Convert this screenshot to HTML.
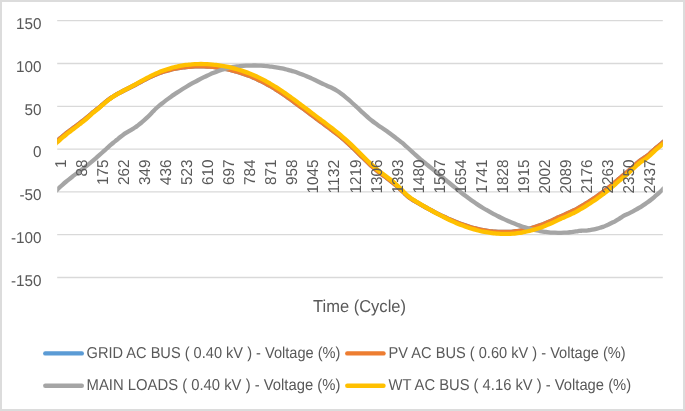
<!DOCTYPE html>
<html><head><meta charset="utf-8"><title>Voltage chart</title>
<style>html,body{margin:0;padding:0;background:#fff;}body{width:685px;height:411px;overflow:hidden;font-family:"Liberation Sans",sans-serif;}svg{display:block;will-change:transform;text-rendering:geometricPrecision;}</style>
</head><body>
<svg width="685" height="411" viewBox="0 0 685 411" font-family='"Liberation Sans", sans-serif' fill="#595959">
<defs><clipPath id="pc"><rect x="57.20" y="0" width="605.60" height="411"/></clipPath></defs>
<rect x="0" y="0" width="685" height="411" fill="#fff"/>
<line x1="57.2" y1="20.70" x2="662.8" y2="20.70" stroke="#d9d9d9" stroke-width="1.3"/>
<line x1="57.2" y1="63.50" x2="662.8" y2="63.50" stroke="#d9d9d9" stroke-width="1.3"/>
<line x1="57.2" y1="106.30" x2="662.8" y2="106.30" stroke="#d9d9d9" stroke-width="1.3"/>
<line x1="57.2" y1="149.10" x2="662.8" y2="149.10" stroke="#d9d9d9" stroke-width="1.3"/>
<line x1="57.2" y1="191.90" x2="662.8" y2="191.90" stroke="#d9d9d9" stroke-width="1.3"/>
<line x1="57.2" y1="234.70" x2="662.8" y2="234.70" stroke="#d9d9d9" stroke-width="1.3"/>
<line x1="57.2" y1="277.50" x2="662.8" y2="277.50" stroke="#d9d9d9" stroke-width="1.3"/>
<text x="41.6" y="28.90" text-anchor="end" font-size="15.7" textLength="25.52" lengthAdjust="spacingAndGlyphs">150</text>
<text x="41.6" y="71.70" text-anchor="end" font-size="15.7" textLength="25.52" lengthAdjust="spacingAndGlyphs">100</text>
<text x="41.6" y="114.50" text-anchor="end" font-size="15.7" textLength="17.01" lengthAdjust="spacingAndGlyphs">50</text>
<text x="41.6" y="157.30" text-anchor="end" font-size="15.7" textLength="8.51" lengthAdjust="spacingAndGlyphs">0</text>
<text x="41.6" y="200.10" text-anchor="end" font-size="15.7" textLength="22.11" lengthAdjust="spacingAndGlyphs">-50</text>
<text x="41.6" y="242.90" text-anchor="end" font-size="15.7" textLength="30.62" lengthAdjust="spacingAndGlyphs">-100</text>
<text x="41.6" y="285.70" text-anchor="end" font-size="15.7" textLength="30.62" lengthAdjust="spacingAndGlyphs">-150</text>
<path clip-path="url(#pc)" d="M54.00,143.69 C54.50,143.25 56.00,141.92 57.00,141.03 C58.00,140.14 59.00,139.23 60.00,138.37 C61.00,137.50 62.00,136.67 63.00,135.85 C64.00,135.03 65.00,134.24 66.00,133.45 C67.00,132.66 68.00,131.86 69.00,131.11 C70.00,130.35 71.00,129.63 72.00,128.91 C73.00,128.18 74.00,127.48 75.00,126.75 C76.00,126.02 77.00,125.29 78.00,124.53 C79.00,123.78 80.00,122.99 81.00,122.22 C82.00,121.45 83.00,120.70 84.00,119.92 C85.00,119.13 86.00,118.34 87.00,117.51 C88.00,116.68 89.00,115.80 90.00,114.91 C91.00,114.03 92.00,113.05 93.00,112.21 C94.00,111.37 95.00,110.66 96.00,109.89 C97.00,109.11 98.00,108.39 99.00,107.57 C100.00,106.76 101.00,105.86 102.00,105.00 C103.00,104.14 104.00,103.23 105.00,102.41 C106.00,101.58 107.00,100.78 108.00,100.03 C109.00,99.28 110.00,98.58 111.00,97.90 C112.00,97.23 113.00,96.59 114.00,95.97 C115.00,95.36 116.00,94.78 117.00,94.21 C118.00,93.65 119.00,93.11 120.00,92.58 C121.00,92.05 122.00,91.54 123.00,91.03 C124.00,90.53 125.00,90.03 126.00,89.54 C127.00,89.04 128.00,88.55 129.00,88.05 C130.00,87.55 131.00,87.05 132.00,86.54 C133.00,86.02 134.00,85.50 135.00,84.98 C136.00,84.45 137.00,83.92 138.00,83.39 C139.00,82.86 140.00,82.32 141.00,81.79 C142.00,81.26 143.00,80.73 144.00,80.21 C145.00,79.69 146.00,79.17 147.00,78.67 C148.00,78.16 149.00,77.66 150.00,77.18 C151.00,76.70 152.00,76.25 153.00,75.80 C154.00,75.36 155.00,74.93 156.00,74.52 C157.00,74.11 158.00,73.71 159.00,73.34 C160.00,72.96 161.00,72.60 162.00,72.26 C163.00,71.91 164.00,71.59 165.00,71.28 C166.00,70.97 167.00,70.67 168.00,70.39 C169.00,70.11 170.00,69.85 171.00,69.60 C172.00,69.36 173.00,69.13 174.00,68.91 C175.00,68.69 176.00,68.49 177.00,68.31 C178.00,68.12 179.00,67.95 180.00,67.79 C181.00,67.64 182.00,67.50 183.00,67.37 C184.00,67.24 185.00,67.13 186.00,67.03 C187.00,66.93 188.00,66.86 189.00,66.78 C190.00,66.70 191.00,66.62 192.00,66.56 C193.00,66.49 194.00,66.43 195.00,66.38 C196.00,66.34 197.00,66.31 198.00,66.29 C199.00,66.28 200.00,66.27 201.00,66.28 C202.00,66.29 203.00,66.31 204.00,66.34 C205.00,66.38 206.00,66.42 207.00,66.48 C208.00,66.54 209.00,66.61 210.00,66.69 C211.00,66.78 212.00,66.87 213.00,66.98 C214.00,67.08 215.00,67.20 216.00,67.33 C217.00,67.46 218.00,67.60 219.00,67.75 C220.00,67.90 221.00,68.07 222.00,68.24 C223.00,68.42 224.00,68.60 225.00,68.80 C226.00,69.00 227.00,69.20 228.00,69.42 C229.00,69.64 230.00,69.88 231.00,70.12 C232.00,70.37 233.00,70.62 234.00,70.89 C235.00,71.16 236.00,71.44 237.00,71.73 C238.00,72.02 239.00,72.33 240.00,72.65 C241.00,72.97 242.00,73.30 243.00,73.64 C244.00,73.98 245.00,74.34 246.00,74.71 C247.00,75.08 248.00,75.47 249.00,75.86 C250.00,76.25 251.00,76.65 252.00,77.07 C253.00,77.48 254.00,77.90 255.00,78.34 C256.00,78.78 257.00,79.24 258.00,79.70 C259.00,80.17 260.00,80.65 261.00,81.15 C262.00,81.64 263.00,82.15 264.00,82.68 C265.00,83.20 266.00,83.74 267.00,84.29 C268.00,84.84 269.00,85.41 270.00,85.99 C271.00,86.57 272.00,87.17 273.00,87.78 C274.00,88.38 275.00,89.00 276.00,89.63 C277.00,90.26 278.00,90.91 279.00,91.56 C280.00,92.21 281.00,92.87 282.00,93.54 C283.00,94.22 284.00,94.90 285.00,95.59 C286.00,96.28 287.00,96.97 288.00,97.68 C289.00,98.38 290.00,99.10 291.00,99.81 C292.00,100.53 293.00,101.26 294.00,101.99 C295.00,102.71 296.00,103.45 297.00,104.19 C298.00,104.93 299.00,105.67 300.00,106.41 C301.00,107.16 302.00,107.89 303.00,108.64 C304.00,109.38 305.00,110.12 306.00,110.87 C307.00,111.61 308.00,112.36 309.00,113.11 C310.00,113.85 311.00,114.60 312.00,115.34 C313.00,116.09 314.00,116.83 315.00,117.57 C316.00,118.31 317.00,119.05 318.00,119.79 C319.00,120.53 320.00,121.26 321.00,122.00 C322.00,122.73 323.00,123.47 324.00,124.20 C325.00,124.94 326.00,125.68 327.00,126.43 C328.00,127.17 329.00,127.92 330.00,128.67 C331.00,129.43 332.00,130.19 333.00,130.96 C334.00,131.73 335.00,132.51 336.00,133.30 C337.00,134.09 338.00,134.88 339.00,135.70 C340.00,136.51 341.00,137.33 342.00,138.17 C343.00,139.01 344.00,139.86 345.00,140.73 C346.00,141.60 347.00,142.48 348.00,143.38 C349.00,144.29 350.00,145.21 351.00,146.15 C352.00,147.08 353.00,148.04 354.00,149.00 C355.00,149.96 356.00,150.94 357.00,151.92 C358.00,152.90 359.00,153.89 360.00,154.88 C361.00,155.86 362.00,156.86 363.00,157.84 C364.00,158.82 365.00,159.80 366.00,160.76 C367.00,161.73 368.00,162.69 369.00,163.63 C370.00,164.56 371.00,165.49 372.00,166.39 C373.00,167.29 374.00,168.18 375.00,169.03 C376.00,169.88 377.00,170.70 378.00,171.50 C379.00,172.30 380.00,173.05 381.00,173.80 C382.00,174.55 383.00,175.27 384.00,176.00 C385.00,176.73 386.00,177.44 387.00,178.18 C388.00,178.92 389.00,179.66 390.00,180.43 C391.00,181.20 392.00,181.99 393.00,182.81 C394.00,183.63 395.00,184.48 396.00,185.35 C397.00,186.23 398.00,187.13 399.00,188.06 C400.00,188.98 401.00,189.94 402.00,190.90 C403.00,191.87 404.00,192.89 405.00,193.83 C406.00,194.77 407.00,195.73 408.00,196.56 C409.00,197.39 410.00,198.13 411.00,198.81 C412.00,199.50 413.00,200.07 414.00,200.67 C415.00,201.27 416.00,201.83 417.00,202.41 C418.00,202.99 419.00,203.56 420.00,204.13 C421.00,204.70 422.00,205.27 423.00,205.83 C424.00,206.39 425.00,206.95 426.00,207.50 C427.00,208.06 428.00,208.60 429.00,209.15 C430.00,209.69 431.00,210.23 432.00,210.76 C433.00,211.29 434.00,211.81 435.00,212.33 C436.00,212.85 437.00,213.36 438.00,213.86 C439.00,214.37 440.00,214.87 441.00,215.35 C442.00,215.84 443.00,216.33 444.00,216.80 C445.00,217.27 446.00,217.74 447.00,218.19 C448.00,218.65 449.00,219.10 450.00,219.53 C451.00,219.97 452.00,220.40 453.00,220.82 C454.00,221.23 455.00,221.64 456.00,222.04 C457.00,222.44 458.00,222.82 459.00,223.20 C460.00,223.58 461.00,223.95 462.00,224.31 C463.00,224.68 464.00,225.03 465.00,225.37 C466.00,225.71 467.00,226.04 468.00,226.35 C469.00,226.67 470.00,226.97 471.00,227.26 C472.00,227.55 473.00,227.83 474.00,228.09 C475.00,228.36 476.00,228.61 477.00,228.85 C478.00,229.09 479.00,229.31 480.00,229.52 C481.00,229.74 482.00,229.94 483.00,230.12 C484.00,230.31 485.00,230.48 486.00,230.64 C487.00,230.80 488.00,230.94 489.00,231.07 C490.00,231.21 491.00,231.32 492.00,231.43 C493.00,231.53 494.00,231.62 495.00,231.70 C496.00,231.77 497.00,231.83 498.00,231.88 C499.00,231.93 500.00,231.96 501.00,231.98 C502.00,231.99 503.00,231.99 504.00,231.99 C505.00,231.98 506.00,231.96 507.00,231.93 C508.00,231.90 509.00,231.85 510.00,231.79 C511.00,231.73 512.00,231.65 513.00,231.56 C514.00,231.47 515.00,231.36 516.00,231.24 C517.00,231.12 518.00,230.98 519.00,230.83 C520.00,230.68 521.00,230.51 522.00,230.32 C523.00,230.14 524.00,229.93 525.00,229.72 C526.00,229.50 527.00,229.27 528.00,229.02 C529.00,228.77 530.00,228.50 531.00,228.23 C532.00,227.95 533.00,227.65 534.00,227.35 C535.00,227.04 536.00,226.72 537.00,226.38 C538.00,226.05 539.00,225.70 540.00,225.34 C541.00,224.97 542.00,224.60 543.00,224.22 C544.00,223.83 545.00,223.43 546.00,223.02 C547.00,222.61 548.00,222.19 549.00,221.75 C550.00,221.32 551.00,220.87 552.00,220.42 C553.00,219.96 554.00,219.49 555.00,219.02 C556.00,218.54 557.00,218.03 558.00,217.56 C559.00,217.08 560.00,216.59 561.00,216.14 C562.00,215.69 563.00,215.30 564.00,214.87 C565.00,214.44 566.00,214.00 567.00,213.56 C568.00,213.11 569.00,212.66 570.00,212.19 C571.00,211.73 572.00,211.26 573.00,210.78 C574.00,210.31 575.00,209.85 576.00,209.34 C577.00,208.82 578.00,208.25 579.00,207.67 C580.00,207.10 581.00,206.49 582.00,205.88 C583.00,205.28 584.00,204.68 585.00,204.07 C586.00,203.45 587.00,202.84 588.00,202.21 C589.00,201.59 590.00,200.97 591.00,200.32 C592.00,199.67 593.00,199.00 594.00,198.31 C595.00,197.63 596.00,196.93 597.00,196.23 C598.00,195.53 599.00,194.81 600.00,194.10 C601.00,193.38 602.00,192.66 603.00,191.93 C604.00,191.20 605.00,190.48 606.00,189.71 C607.00,188.93 608.00,188.10 609.00,187.28 C610.00,186.46 611.00,185.64 612.00,184.80 C613.00,183.96 614.00,183.11 615.00,182.25 C616.00,181.39 617.00,180.48 618.00,179.64 C619.00,178.80 620.00,178.03 621.00,177.21 C622.00,176.39 623.00,175.55 624.00,174.70 C625.00,173.86 626.00,173.00 627.00,172.13 C628.00,171.26 629.00,170.38 630.00,169.50 C631.00,168.61 632.00,167.72 633.00,166.82 C634.00,165.93 635.00,165.03 636.00,164.13 C637.00,163.24 638.00,162.25 639.00,161.44 C640.00,160.63 641.00,159.95 642.00,159.27 C643.00,158.60 644.00,158.07 645.00,157.40 C646.00,156.72 647.00,156.05 648.00,155.23 C649.00,154.40 650.00,153.36 651.00,152.44 C652.00,151.53 653.00,150.63 654.00,149.74 C655.00,148.85 656.00,147.96 657.00,147.10 C658.00,146.24 659.00,145.39 660.00,144.58 C661.00,143.76 662.00,142.99 663.00,142.19 C664.00,141.40 665.50,140.21 666.00,139.81" fill="none" stroke="#5b9bd5" stroke-width="4.30" stroke-linejoin="round" stroke-linecap="butt"/>
<path clip-path="url(#pc)" d="M54.00,143.69 C54.50,143.25 56.00,141.92 57.00,141.03 C58.00,140.14 59.00,139.23 60.00,138.37 C61.00,137.50 62.00,136.67 63.00,135.85 C64.00,135.03 65.00,134.24 66.00,133.45 C67.00,132.66 68.00,131.86 69.00,131.11 C70.00,130.35 71.00,129.63 72.00,128.91 C73.00,128.18 74.00,127.48 75.00,126.75 C76.00,126.02 77.00,125.29 78.00,124.53 C79.00,123.78 80.00,122.99 81.00,122.22 C82.00,121.45 83.00,120.70 84.00,119.92 C85.00,119.13 86.00,118.34 87.00,117.51 C88.00,116.68 89.00,115.80 90.00,114.91 C91.00,114.03 92.00,113.05 93.00,112.21 C94.00,111.37 95.00,110.66 96.00,109.89 C97.00,109.11 98.00,108.39 99.00,107.57 C100.00,106.76 101.00,105.86 102.00,105.00 C103.00,104.14 104.00,103.23 105.00,102.41 C106.00,101.58 107.00,100.78 108.00,100.03 C109.00,99.28 110.00,98.58 111.00,97.90 C112.00,97.23 113.00,96.59 114.00,95.97 C115.00,95.36 116.00,94.78 117.00,94.21 C118.00,93.65 119.00,93.11 120.00,92.58 C121.00,92.05 122.00,91.54 123.00,91.03 C124.00,90.53 125.00,90.03 126.00,89.54 C127.00,89.04 128.00,88.55 129.00,88.05 C130.00,87.55 131.00,87.05 132.00,86.54 C133.00,86.02 134.00,85.50 135.00,84.98 C136.00,84.45 137.00,83.92 138.00,83.39 C139.00,82.86 140.00,82.32 141.00,81.79 C142.00,81.26 143.00,80.73 144.00,80.21 C145.00,79.69 146.00,79.17 147.00,78.67 C148.00,78.16 149.00,77.66 150.00,77.18 C151.00,76.70 152.00,76.25 153.00,75.80 C154.00,75.36 155.00,74.93 156.00,74.52 C157.00,74.11 158.00,73.71 159.00,73.34 C160.00,72.96 161.00,72.60 162.00,72.26 C163.00,71.91 164.00,71.59 165.00,71.28 C166.00,70.97 167.00,70.67 168.00,70.39 C169.00,70.11 170.00,69.85 171.00,69.60 C172.00,69.36 173.00,69.13 174.00,68.91 C175.00,68.69 176.00,68.49 177.00,68.31 C178.00,68.12 179.00,67.95 180.00,67.79 C181.00,67.64 182.00,67.50 183.00,67.37 C184.00,67.24 185.00,67.13 186.00,67.03 C187.00,66.93 188.00,66.86 189.00,66.78 C190.00,66.70 191.00,66.62 192.00,66.56 C193.00,66.49 194.00,66.43 195.00,66.38 C196.00,66.34 197.00,66.31 198.00,66.29 C199.00,66.28 200.00,66.27 201.00,66.28 C202.00,66.29 203.00,66.31 204.00,66.34 C205.00,66.38 206.00,66.42 207.00,66.48 C208.00,66.54 209.00,66.61 210.00,66.69 C211.00,66.78 212.00,66.87 213.00,66.98 C214.00,67.08 215.00,67.20 216.00,67.33 C217.00,67.46 218.00,67.60 219.00,67.75 C220.00,67.90 221.00,68.07 222.00,68.24 C223.00,68.42 224.00,68.60 225.00,68.80 C226.00,69.00 227.00,69.20 228.00,69.42 C229.00,69.64 230.00,69.88 231.00,70.12 C232.00,70.37 233.00,70.62 234.00,70.89 C235.00,71.16 236.00,71.44 237.00,71.73 C238.00,72.02 239.00,72.33 240.00,72.65 C241.00,72.97 242.00,73.30 243.00,73.64 C244.00,73.98 245.00,74.34 246.00,74.71 C247.00,75.08 248.00,75.47 249.00,75.86 C250.00,76.25 251.00,76.65 252.00,77.07 C253.00,77.48 254.00,77.90 255.00,78.34 C256.00,78.78 257.00,79.24 258.00,79.70 C259.00,80.17 260.00,80.65 261.00,81.15 C262.00,81.64 263.00,82.15 264.00,82.68 C265.00,83.20 266.00,83.74 267.00,84.29 C268.00,84.84 269.00,85.41 270.00,85.99 C271.00,86.57 272.00,87.17 273.00,87.78 C274.00,88.38 275.00,89.00 276.00,89.63 C277.00,90.26 278.00,90.91 279.00,91.56 C280.00,92.21 281.00,92.87 282.00,93.54 C283.00,94.22 284.00,94.90 285.00,95.59 C286.00,96.28 287.00,96.97 288.00,97.68 C289.00,98.38 290.00,99.10 291.00,99.81 C292.00,100.53 293.00,101.26 294.00,101.99 C295.00,102.71 296.00,103.45 297.00,104.19 C298.00,104.93 299.00,105.67 300.00,106.41 C301.00,107.16 302.00,107.89 303.00,108.64 C304.00,109.38 305.00,110.12 306.00,110.87 C307.00,111.61 308.00,112.36 309.00,113.11 C310.00,113.85 311.00,114.60 312.00,115.34 C313.00,116.09 314.00,116.83 315.00,117.57 C316.00,118.31 317.00,119.05 318.00,119.79 C319.00,120.53 320.00,121.26 321.00,122.00 C322.00,122.73 323.00,123.47 324.00,124.20 C325.00,124.94 326.00,125.68 327.00,126.43 C328.00,127.17 329.00,127.92 330.00,128.67 C331.00,129.43 332.00,130.19 333.00,130.96 C334.00,131.73 335.00,132.51 336.00,133.30 C337.00,134.09 338.00,134.88 339.00,135.70 C340.00,136.51 341.00,137.33 342.00,138.17 C343.00,139.01 344.00,139.86 345.00,140.73 C346.00,141.60 347.00,142.48 348.00,143.38 C349.00,144.29 350.00,145.21 351.00,146.15 C352.00,147.08 353.00,148.04 354.00,149.00 C355.00,149.96 356.00,150.94 357.00,151.92 C358.00,152.90 359.00,153.89 360.00,154.88 C361.00,155.86 362.00,156.86 363.00,157.84 C364.00,158.82 365.00,159.80 366.00,160.76 C367.00,161.73 368.00,162.69 369.00,163.63 C370.00,164.56 371.00,165.49 372.00,166.39 C373.00,167.29 374.00,168.18 375.00,169.03 C376.00,169.88 377.00,170.70 378.00,171.50 C379.00,172.30 380.00,173.05 381.00,173.80 C382.00,174.55 383.00,175.27 384.00,176.00 C385.00,176.73 386.00,177.44 387.00,178.18 C388.00,178.92 389.00,179.66 390.00,180.43 C391.00,181.20 392.00,181.99 393.00,182.81 C394.00,183.63 395.00,184.48 396.00,185.35 C397.00,186.23 398.00,187.13 399.00,188.06 C400.00,188.98 401.00,189.94 402.00,190.90 C403.00,191.87 404.00,192.89 405.00,193.83 C406.00,194.77 407.00,195.73 408.00,196.56 C409.00,197.39 410.00,198.13 411.00,198.81 C412.00,199.50 413.00,200.07 414.00,200.67 C415.00,201.27 416.00,201.83 417.00,202.41 C418.00,202.99 419.00,203.56 420.00,204.13 C421.00,204.70 422.00,205.27 423.00,205.83 C424.00,206.39 425.00,206.95 426.00,207.50 C427.00,208.06 428.00,208.60 429.00,209.15 C430.00,209.69 431.00,210.23 432.00,210.76 C433.00,211.29 434.00,211.81 435.00,212.33 C436.00,212.85 437.00,213.36 438.00,213.86 C439.00,214.37 440.00,214.87 441.00,215.35 C442.00,215.84 443.00,216.33 444.00,216.80 C445.00,217.27 446.00,217.74 447.00,218.19 C448.00,218.65 449.00,219.10 450.00,219.53 C451.00,219.97 452.00,220.40 453.00,220.82 C454.00,221.23 455.00,221.64 456.00,222.04 C457.00,222.44 458.00,222.82 459.00,223.20 C460.00,223.58 461.00,223.95 462.00,224.31 C463.00,224.68 464.00,225.03 465.00,225.37 C466.00,225.71 467.00,226.04 468.00,226.35 C469.00,226.67 470.00,226.97 471.00,227.26 C472.00,227.55 473.00,227.83 474.00,228.09 C475.00,228.36 476.00,228.61 477.00,228.85 C478.00,229.09 479.00,229.31 480.00,229.52 C481.00,229.74 482.00,229.94 483.00,230.12 C484.00,230.31 485.00,230.48 486.00,230.64 C487.00,230.80 488.00,230.94 489.00,231.07 C490.00,231.21 491.00,231.32 492.00,231.43 C493.00,231.53 494.00,231.62 495.00,231.70 C496.00,231.77 497.00,231.83 498.00,231.88 C499.00,231.93 500.00,231.96 501.00,231.98 C502.00,231.99 503.00,231.99 504.00,231.99 C505.00,231.98 506.00,231.96 507.00,231.93 C508.00,231.90 509.00,231.85 510.00,231.79 C511.00,231.73 512.00,231.65 513.00,231.56 C514.00,231.47 515.00,231.36 516.00,231.24 C517.00,231.12 518.00,230.98 519.00,230.83 C520.00,230.68 521.00,230.51 522.00,230.32 C523.00,230.14 524.00,229.93 525.00,229.72 C526.00,229.50 527.00,229.27 528.00,229.02 C529.00,228.77 530.00,228.50 531.00,228.23 C532.00,227.95 533.00,227.65 534.00,227.35 C535.00,227.04 536.00,226.72 537.00,226.38 C538.00,226.05 539.00,225.70 540.00,225.34 C541.00,224.97 542.00,224.60 543.00,224.22 C544.00,223.83 545.00,223.43 546.00,223.02 C547.00,222.61 548.00,222.19 549.00,221.75 C550.00,221.32 551.00,220.87 552.00,220.42 C553.00,219.96 554.00,219.49 555.00,219.02 C556.00,218.54 557.00,218.03 558.00,217.56 C559.00,217.08 560.00,216.59 561.00,216.14 C562.00,215.69 563.00,215.30 564.00,214.87 C565.00,214.44 566.00,214.00 567.00,213.56 C568.00,213.11 569.00,212.66 570.00,212.19 C571.00,211.73 572.00,211.26 573.00,210.78 C574.00,210.31 575.00,209.85 576.00,209.34 C577.00,208.82 578.00,208.25 579.00,207.67 C580.00,207.10 581.00,206.49 582.00,205.88 C583.00,205.28 584.00,204.68 585.00,204.07 C586.00,203.45 587.00,202.84 588.00,202.21 C589.00,201.59 590.00,200.97 591.00,200.32 C592.00,199.67 593.00,199.00 594.00,198.31 C595.00,197.63 596.00,196.93 597.00,196.23 C598.00,195.53 599.00,194.81 600.00,194.10 C601.00,193.38 602.00,192.66 603.00,191.93 C604.00,191.20 605.00,190.48 606.00,189.71 C607.00,188.93 608.00,188.10 609.00,187.28 C610.00,186.46 611.00,185.64 612.00,184.80 C613.00,183.96 614.00,183.11 615.00,182.25 C616.00,181.39 617.00,180.48 618.00,179.64 C619.00,178.80 620.00,178.03 621.00,177.21 C622.00,176.39 623.00,175.55 624.00,174.70 C625.00,173.86 626.00,173.00 627.00,172.13 C628.00,171.26 629.00,170.38 630.00,169.50 C631.00,168.61 632.00,167.72 633.00,166.82 C634.00,165.93 635.00,165.03 636.00,164.13 C637.00,163.24 638.00,162.25 639.00,161.44 C640.00,160.63 641.00,159.95 642.00,159.27 C643.00,158.60 644.00,158.07 645.00,157.40 C646.00,156.72 647.00,156.05 648.00,155.23 C649.00,154.40 650.00,153.36 651.00,152.44 C652.00,151.53 653.00,150.63 654.00,149.74 C655.00,148.85 656.00,147.96 657.00,147.10 C658.00,146.24 659.00,145.39 660.00,144.58 C661.00,143.76 662.00,142.99 663.00,142.19 C664.00,141.40 665.50,140.21 666.00,139.81" fill="none" stroke="#ed7d31" stroke-width="4.30" stroke-linejoin="round" stroke-linecap="butt"/>
<path clip-path="url(#pc)" d="M54.00,192.81 C54.50,192.33 56.00,190.88 57.00,189.92 C58.00,188.96 59.00,187.97 60.00,187.03 C61.00,186.10 62.00,185.20 63.00,184.32 C64.00,183.44 65.00,182.59 66.00,181.76 C67.00,180.92 68.00,180.11 69.00,179.31 C70.00,178.51 71.00,177.73 72.00,176.96 C73.00,176.18 74.00,175.42 75.00,174.66 C76.00,173.90 77.00,173.15 78.00,172.40 C79.00,171.64 80.00,170.90 81.00,170.14 C82.00,169.38 83.00,168.62 84.00,167.85 C85.00,167.08 86.00,166.30 87.00,165.51 C88.00,164.71 89.00,163.91 90.00,163.09 C91.00,162.27 92.00,161.44 93.00,160.60 C94.00,159.75 95.00,158.89 96.00,158.02 C97.00,157.15 98.00,156.25 99.00,155.37 C100.00,154.50 101.00,153.63 102.00,152.75 C103.00,151.87 104.00,150.99 105.00,150.09 C106.00,149.19 107.00,148.25 108.00,147.35 C109.00,146.45 110.00,145.53 111.00,144.67 C112.00,143.81 113.00,143.01 114.00,142.20 C115.00,141.38 116.00,140.60 117.00,139.77 C118.00,138.95 119.00,138.07 120.00,137.26 C121.00,136.46 122.00,135.67 123.00,134.95 C124.00,134.23 125.00,133.57 126.00,132.93 C127.00,132.29 128.00,131.69 129.00,131.10 C130.00,130.50 131.00,129.93 132.00,129.35 C133.00,128.76 134.00,128.24 135.00,127.58 C136.00,126.91 137.00,126.11 138.00,125.34 C139.00,124.57 140.00,123.79 141.00,122.97 C142.00,122.14 143.00,121.29 144.00,120.41 C145.00,119.53 146.00,118.63 147.00,117.67 C148.00,116.70 149.00,115.67 150.00,114.64 C151.00,113.62 152.00,112.55 153.00,111.52 C154.00,110.49 155.00,109.41 156.00,108.46 C157.00,107.52 158.00,106.66 159.00,105.83 C160.00,104.99 161.00,104.22 162.00,103.44 C163.00,102.65 164.00,101.88 165.00,101.13 C166.00,100.37 167.00,99.63 168.00,98.89 C169.00,98.16 170.00,97.44 171.00,96.73 C172.00,96.03 173.00,95.33 174.00,94.65 C175.00,93.96 176.00,93.29 177.00,92.63 C178.00,91.97 179.00,91.32 180.00,90.68 C181.00,90.04 182.00,89.41 183.00,88.79 C184.00,88.18 185.00,87.57 186.00,86.97 C187.00,86.37 188.00,85.78 189.00,85.20 C190.00,84.62 191.00,84.05 192.00,83.49 C193.00,82.93 194.00,82.38 195.00,81.83 C196.00,81.29 197.00,80.75 198.00,80.23 C199.00,79.70 200.00,79.18 201.00,78.67 C202.00,78.17 203.00,77.67 204.00,77.18 C205.00,76.69 206.00,76.21 207.00,75.75 C208.00,75.28 209.00,74.83 210.00,74.39 C211.00,73.95 212.00,73.52 213.00,73.11 C214.00,72.69 215.00,72.29 216.00,71.91 C217.00,71.53 218.00,71.15 219.00,70.80 C220.00,70.45 221.00,70.11 222.00,69.79 C223.00,69.46 224.00,69.16 225.00,68.86 C226.00,68.57 227.00,68.29 228.00,68.04 C229.00,67.78 230.00,67.54 231.00,67.34 C232.00,67.14 233.00,66.99 234.00,66.83 C235.00,66.68 236.00,66.54 237.00,66.41 C238.00,66.29 239.00,66.18 240.00,66.08 C241.00,65.99 242.00,65.91 243.00,65.84 C244.00,65.77 245.00,65.72 246.00,65.68 C247.00,65.64 248.00,65.64 249.00,65.61 C250.00,65.59 251.00,65.55 252.00,65.53 C253.00,65.52 254.00,65.50 255.00,65.50 C256.00,65.50 257.00,65.51 258.00,65.54 C259.00,65.57 260.00,65.61 261.00,65.67 C262.00,65.73 263.00,65.80 264.00,65.88 C265.00,65.96 266.00,66.06 267.00,66.17 C268.00,66.28 269.00,66.41 270.00,66.53 C271.00,66.66 272.00,66.76 273.00,66.89 C274.00,67.02 275.00,67.17 276.00,67.32 C277.00,67.48 278.00,67.65 279.00,67.83 C280.00,68.01 281.00,68.21 282.00,68.41 C283.00,68.62 284.00,68.84 285.00,69.07 C286.00,69.30 287.00,69.54 288.00,69.80 C289.00,70.06 290.00,70.33 291.00,70.62 C292.00,70.92 293.00,71.24 294.00,71.56 C295.00,71.89 296.00,72.22 297.00,72.57 C298.00,72.92 299.00,73.28 300.00,73.65 C301.00,74.02 302.00,74.40 303.00,74.80 C304.00,75.19 305.00,75.59 306.00,76.01 C307.00,76.43 308.00,76.85 309.00,77.29 C310.00,77.73 311.00,78.17 312.00,78.63 C313.00,79.09 314.00,79.56 315.00,80.04 C316.00,80.52 317.00,81.01 318.00,81.50 C319.00,81.99 320.00,82.49 321.00,82.97 C322.00,83.46 323.00,83.94 324.00,84.40 C325.00,84.86 326.00,85.30 327.00,85.74 C328.00,86.18 329.00,86.60 330.00,87.06 C331.00,87.52 332.00,87.99 333.00,88.51 C334.00,89.02 335.00,89.57 336.00,90.17 C337.00,90.76 338.00,91.41 339.00,92.09 C340.00,92.76 341.00,93.49 342.00,94.23 C343.00,94.98 344.00,95.77 345.00,96.58 C346.00,97.39 347.00,98.23 348.00,99.09 C349.00,99.95 350.00,100.83 351.00,101.73 C352.00,102.63 353.00,103.55 354.00,104.47 C355.00,105.39 356.00,106.34 357.00,107.27 C358.00,108.21 359.00,109.16 360.00,110.10 C361.00,111.04 362.00,111.98 363.00,112.90 C364.00,113.83 365.00,114.75 366.00,115.64 C367.00,116.54 368.00,117.42 369.00,118.27 C370.00,119.13 371.00,119.96 372.00,120.75 C373.00,121.54 374.00,122.30 375.00,123.04 C376.00,123.77 377.00,124.48 378.00,125.17 C379.00,125.87 380.00,126.55 381.00,127.22 C382.00,127.89 383.00,128.52 384.00,129.21 C385.00,129.89 386.00,130.59 387.00,131.31 C388.00,132.03 389.00,132.77 390.00,133.51 C391.00,134.26 392.00,135.02 393.00,135.78 C394.00,136.54 395.00,137.31 396.00,138.08 C397.00,138.85 398.00,139.62 399.00,140.39 C400.00,141.16 401.00,141.87 402.00,142.69 C403.00,143.50 404.00,144.39 405.00,145.28 C406.00,146.17 407.00,147.11 408.00,148.02 C409.00,148.93 410.00,149.84 411.00,150.75 C412.00,151.66 413.00,152.56 414.00,153.47 C415.00,154.38 416.00,155.28 417.00,156.19 C418.00,157.09 419.00,158.04 420.00,158.90 C421.00,159.76 422.00,160.53 423.00,161.35 C424.00,162.16 425.00,162.98 426.00,163.80 C427.00,164.61 428.00,165.43 429.00,166.24 C430.00,167.06 431.00,167.88 432.00,168.69 C433.00,169.51 434.00,170.33 435.00,171.15 C436.00,171.97 437.00,172.79 438.00,173.61 C439.00,174.43 440.00,175.25 441.00,176.08 C442.00,176.90 443.00,177.73 444.00,178.56 C445.00,179.38 446.00,180.21 447.00,181.04 C448.00,181.86 449.00,182.69 450.00,183.51 C451.00,184.34 452.00,185.16 453.00,185.98 C454.00,186.80 455.00,187.61 456.00,188.42 C457.00,189.23 458.00,190.03 459.00,190.83 C460.00,191.63 461.00,192.42 462.00,193.20 C463.00,193.99 464.00,194.76 465.00,195.53 C466.00,196.29 467.00,197.05 468.00,197.79 C469.00,198.54 470.00,199.27 471.00,199.99 C472.00,200.71 473.00,201.42 474.00,202.12 C475.00,202.81 476.00,203.50 477.00,204.16 C478.00,204.83 479.00,205.48 480.00,206.11 C481.00,206.75 482.00,207.36 483.00,207.97 C484.00,208.57 485.00,209.16 486.00,209.74 C487.00,210.31 488.00,210.88 489.00,211.44 C490.00,211.99 491.00,212.54 492.00,213.08 C493.00,213.62 494.00,214.16 495.00,214.68 C496.00,215.20 497.00,215.72 498.00,216.22 C499.00,216.73 500.00,217.22 501.00,217.71 C502.00,218.20 503.00,218.68 504.00,219.14 C505.00,219.61 506.00,220.07 507.00,220.51 C508.00,220.96 509.00,221.40 510.00,221.82 C511.00,222.25 512.00,222.67 513.00,223.07 C514.00,223.48 515.00,223.87 516.00,224.25 C517.00,224.63 518.00,225.01 519.00,225.37 C520.00,225.72 521.00,226.07 522.00,226.41 C523.00,226.74 524.00,227.07 525.00,227.38 C526.00,227.69 527.00,227.99 528.00,228.28 C529.00,228.56 530.00,228.84 531.00,229.10 C532.00,229.36 533.00,229.61 534.00,229.84 C535.00,230.08 536.00,230.30 537.00,230.50 C538.00,230.71 539.00,230.91 540.00,231.08 C541.00,231.26 542.00,231.43 543.00,231.58 C544.00,231.73 545.00,231.87 546.00,231.99 C547.00,232.12 548.00,232.22 549.00,232.32 C550.00,232.42 551.00,232.50 552.00,232.56 C553.00,232.63 554.00,232.68 555.00,232.72 C556.00,232.76 557.00,232.79 558.00,232.80 C559.00,232.81 560.00,232.81 561.00,232.79 C562.00,232.77 563.00,232.74 564.00,232.70 C565.00,232.65 566.00,232.59 567.00,232.52 C568.00,232.45 569.00,232.36 570.00,232.26 C571.00,232.16 572.00,232.05 573.00,231.92 C574.00,231.79 575.00,231.65 576.00,231.49 C577.00,231.34 578.00,231.11 579.00,230.99 C580.00,230.86 581.00,230.80 582.00,230.73 C583.00,230.66 584.00,230.62 585.00,230.55 C586.00,230.48 587.00,230.40 588.00,230.30 C589.00,230.20 590.00,230.11 591.00,229.96 C592.00,229.80 593.00,229.59 594.00,229.37 C595.00,229.14 596.00,228.88 597.00,228.62 C598.00,228.35 599.00,228.07 600.00,227.78 C601.00,227.49 602.00,227.22 603.00,226.87 C604.00,226.51 605.00,226.08 606.00,225.64 C607.00,225.20 608.00,224.70 609.00,224.22 C610.00,223.74 611.00,223.25 612.00,222.77 C613.00,222.28 614.00,221.84 615.00,221.30 C616.00,220.76 617.00,220.13 618.00,219.51 C619.00,218.89 620.00,218.21 621.00,217.57 C622.00,216.92 623.00,216.18 624.00,215.64 C625.00,215.09 626.00,214.75 627.00,214.28 C628.00,213.82 629.00,213.35 630.00,212.86 C631.00,212.37 632.00,211.86 633.00,211.34 C634.00,210.81 635.00,210.27 636.00,209.71 C637.00,209.15 638.00,208.57 639.00,207.96 C640.00,207.36 641.00,206.74 642.00,206.10 C643.00,205.46 644.00,204.79 645.00,204.11 C646.00,203.42 647.00,202.71 648.00,201.98 C649.00,201.25 650.00,200.50 651.00,199.72 C652.00,198.93 653.00,198.13 654.00,197.30 C655.00,196.47 656.00,195.61 657.00,194.73 C658.00,193.85 659.00,192.94 660.00,192.00 C661.00,191.06 662.00,190.07 663.00,189.10 C664.00,188.13 665.50,186.68 666.00,186.20" fill="none" stroke="#a5a5a5" stroke-width="4.30" stroke-linejoin="round" stroke-linecap="butt"/>
<path clip-path="url(#pc)" d="M54.00,145.26 C54.50,144.80 56.00,143.44 57.00,142.53 C58.00,141.62 59.00,140.69 60.00,139.80 C61.00,138.92 62.00,138.07 63.00,137.22 C64.00,136.38 65.00,135.57 66.00,134.76 C67.00,133.94 68.00,133.13 69.00,132.35 C70.00,131.57 71.00,130.84 72.00,130.09 C73.00,129.34 74.00,128.62 75.00,127.87 C76.00,127.12 77.00,126.36 78.00,125.59 C79.00,124.81 80.00,124.00 81.00,123.21 C82.00,122.42 83.00,121.65 84.00,120.84 C85.00,120.04 86.00,119.23 87.00,118.37 C88.00,117.52 89.00,116.62 90.00,115.71 C91.00,114.81 92.00,113.80 93.00,112.93 C94.00,112.07 95.00,111.33 96.00,110.53 C97.00,109.73 98.00,108.97 99.00,108.13 C100.00,107.29 101.00,106.37 102.00,105.48 C103.00,104.59 104.00,103.66 105.00,102.81 C106.00,101.95 107.00,101.13 108.00,100.35 C109.00,99.58 110.00,98.85 111.00,98.14 C112.00,97.44 113.00,96.78 114.00,96.13 C115.00,95.49 116.00,94.89 117.00,94.29 C118.00,93.70 119.00,93.14 120.00,92.58 C121.00,92.02 122.00,91.49 123.00,90.95 C124.00,90.42 125.00,89.90 126.00,89.38 C127.00,88.85 128.00,88.34 129.00,87.81 C130.00,87.28 131.00,86.76 132.00,86.22 C133.00,85.68 134.00,85.13 135.00,84.58 C136.00,84.02 137.00,83.46 138.00,82.91 C139.00,82.35 140.00,81.79 141.00,81.23 C142.00,80.68 143.00,80.12 144.00,79.57 C145.00,79.02 146.00,78.48 147.00,77.95 C148.00,77.42 149.00,76.89 150.00,76.38 C151.00,75.87 152.00,75.38 153.00,74.90 C154.00,74.42 155.00,73.95 156.00,73.51 C157.00,73.06 158.00,72.63 159.00,72.22 C160.00,71.81 161.00,71.42 162.00,71.04 C163.00,70.66 164.00,70.30 165.00,69.95 C166.00,69.61 167.00,69.28 168.00,68.96 C169.00,68.65 170.00,68.35 171.00,68.07 C172.00,67.79 173.00,67.52 174.00,67.27 C175.00,67.02 176.00,66.78 177.00,66.56 C178.00,66.34 179.00,66.13 180.00,65.94 C181.00,65.75 182.00,65.58 183.00,65.42 C184.00,65.25 185.00,65.11 186.00,64.97 C187.00,64.84 188.00,64.72 189.00,64.62 C190.00,64.51 191.00,64.42 192.00,64.34 C193.00,64.27 194.00,64.20 195.00,64.15 C196.00,64.10 197.00,64.06 198.00,64.04 C199.00,64.02 200.00,64.01 201.00,64.01 C202.00,64.01 203.00,64.02 204.00,64.05 C205.00,64.08 206.00,64.12 207.00,64.17 C208.00,64.22 209.00,64.29 210.00,64.36 C211.00,64.44 212.00,64.53 213.00,64.62 C214.00,64.72 215.00,64.84 216.00,64.96 C217.00,65.08 218.00,65.21 219.00,65.36 C220.00,65.50 221.00,65.66 222.00,65.83 C223.00,66.00 224.00,66.17 225.00,66.36 C226.00,66.56 227.00,66.76 228.00,66.97 C229.00,67.18 230.00,67.41 231.00,67.65 C232.00,67.89 233.00,68.13 234.00,68.40 C235.00,68.66 236.00,68.93 237.00,69.22 C238.00,69.50 239.00,69.80 240.00,70.11 C241.00,70.43 242.00,70.75 243.00,71.09 C244.00,71.42 245.00,71.77 246.00,72.14 C247.00,72.50 248.00,72.88 249.00,73.27 C250.00,73.65 251.00,74.06 252.00,74.47 C253.00,74.89 254.00,75.32 255.00,75.76 C256.00,76.21 257.00,76.66 258.00,77.14 C259.00,77.61 260.00,78.09 261.00,78.59 C262.00,79.09 263.00,79.60 264.00,80.13 C265.00,80.66 266.00,81.20 267.00,81.76 C268.00,82.32 269.00,82.89 270.00,83.47 C271.00,84.06 272.00,84.66 273.00,85.27 C274.00,85.88 275.00,86.50 276.00,87.14 C277.00,87.77 278.00,88.42 279.00,89.07 C280.00,89.73 281.00,90.40 282.00,91.07 C283.00,91.75 284.00,92.43 285.00,93.13 C286.00,93.82 287.00,94.52 288.00,95.23 C289.00,95.94 290.00,96.66 291.00,97.38 C292.00,98.10 293.00,98.83 294.00,99.56 C295.00,100.29 296.00,101.03 297.00,101.78 C298.00,102.52 299.00,103.27 300.00,104.01 C301.00,104.76 302.00,105.52 303.00,106.27 C304.00,107.03 305.00,107.78 306.00,108.54 C307.00,109.30 308.00,110.06 309.00,110.81 C310.00,111.57 311.00,112.33 312.00,113.09 C313.00,113.84 314.00,114.60 315.00,115.35 C316.00,116.11 317.00,116.86 318.00,117.61 C319.00,118.35 320.00,119.10 321.00,119.85 C322.00,120.60 323.00,121.34 324.00,122.09 C325.00,122.84 326.00,123.59 327.00,124.35 C328.00,125.11 329.00,125.87 330.00,126.63 C331.00,127.40 332.00,128.17 333.00,128.96 C334.00,129.74 335.00,130.53 336.00,131.33 C337.00,132.13 338.00,132.94 339.00,133.76 C340.00,134.59 341.00,135.42 342.00,136.27 C343.00,137.12 344.00,137.99 345.00,138.87 C346.00,139.75 347.00,140.64 348.00,141.56 C349.00,142.48 350.00,143.41 351.00,144.36 C352.00,145.31 353.00,146.29 354.00,147.27 C355.00,148.24 356.00,149.24 357.00,150.23 C358.00,151.23 359.00,152.24 360.00,153.24 C361.00,154.24 362.00,155.25 363.00,156.24 C364.00,157.24 365.00,158.24 366.00,159.22 C367.00,160.20 368.00,161.18 369.00,162.13 C370.00,163.08 371.00,164.03 372.00,164.94 C373.00,165.86 374.00,166.76 375.00,167.63 C376.00,168.49 377.00,169.34 378.00,170.15 C379.00,170.96 380.00,171.73 381.00,172.50 C382.00,173.26 383.00,174.00 384.00,174.75 C385.00,175.49 386.00,176.22 387.00,176.97 C388.00,177.73 389.00,178.48 390.00,179.27 C391.00,180.06 392.00,180.86 393.00,181.70 C394.00,182.54 395.00,183.40 396.00,184.29 C397.00,185.18 398.00,186.10 399.00,187.04 C400.00,187.99 401.00,188.98 402.00,189.97 C403.00,190.96 404.00,192.02 405.00,193.00 C406.00,193.97 407.00,194.96 408.00,195.83 C409.00,196.69 410.00,197.46 411.00,198.18 C412.00,198.90 413.00,199.50 414.00,200.13 C415.00,200.77 416.00,201.36 417.00,201.98 C418.00,202.59 419.00,203.19 420.00,203.80 C421.00,204.40 422.00,205.00 423.00,205.60 C424.00,206.19 425.00,206.78 426.00,207.37 C427.00,207.96 428.00,208.54 429.00,209.11 C430.00,209.69 431.00,210.26 432.00,210.82 C433.00,211.39 434.00,211.95 435.00,212.50 C436.00,213.05 437.00,213.59 438.00,214.13 C439.00,214.67 440.00,215.20 441.00,215.72 C442.00,216.24 443.00,216.76 444.00,217.27 C445.00,217.77 446.00,218.27 447.00,218.76 C448.00,219.25 449.00,219.73 450.00,220.20 C451.00,220.67 452.00,221.13 453.00,221.58 C454.00,222.03 455.00,222.48 456.00,222.91 C457.00,223.34 458.00,223.76 459.00,224.17 C460.00,224.58 461.00,224.97 462.00,225.36 C463.00,225.75 464.00,226.12 465.00,226.48 C466.00,226.84 467.00,227.19 468.00,227.53 C469.00,227.87 470.00,228.19 471.00,228.51 C472.00,228.82 473.00,229.12 474.00,229.40 C475.00,229.69 476.00,229.96 477.00,230.23 C478.00,230.49 479.00,230.73 480.00,230.97 C481.00,231.20 482.00,231.43 483.00,231.63 C484.00,231.84 485.00,232.04 486.00,232.22 C487.00,232.40 488.00,232.57 489.00,232.72 C490.00,232.87 491.00,233.01 492.00,233.14 C493.00,233.26 494.00,233.38 495.00,233.47 C496.00,233.57 497.00,233.65 498.00,233.72 C499.00,233.79 500.00,233.85 501.00,233.89 C502.00,233.93 503.00,233.95 504.00,233.96 C505.00,233.97 506.00,233.97 507.00,233.95 C508.00,233.93 509.00,233.90 510.00,233.85 C511.00,233.80 512.00,233.73 513.00,233.65 C514.00,233.57 515.00,233.48 516.00,233.37 C517.00,233.26 518.00,233.13 519.00,232.99 C520.00,232.85 521.00,232.69 522.00,232.51 C523.00,232.34 524.00,232.15 525.00,231.95 C526.00,231.74 527.00,231.52 528.00,231.28 C529.00,231.04 530.00,230.79 531.00,230.52 C532.00,230.26 533.00,229.97 534.00,229.68 C535.00,229.38 536.00,229.07 537.00,228.75 C538.00,228.42 539.00,228.09 540.00,227.74 C541.00,227.39 542.00,227.02 543.00,226.65 C544.00,226.27 545.00,225.88 546.00,225.48 C547.00,225.08 548.00,224.67 549.00,224.24 C550.00,223.82 551.00,223.38 552.00,222.94 C553.00,222.49 554.00,222.03 555.00,221.57 C556.00,221.10 557.00,220.61 558.00,220.14 C559.00,219.66 560.00,219.18 561.00,218.73 C562.00,218.29 563.00,217.89 564.00,217.45 C565.00,217.02 566.00,216.57 567.00,216.12 C568.00,215.67 569.00,215.21 570.00,214.74 C571.00,214.28 572.00,213.80 573.00,213.32 C574.00,212.84 575.00,212.38 576.00,211.86 C577.00,211.33 578.00,210.76 579.00,210.18 C580.00,209.60 581.00,208.98 582.00,208.37 C583.00,207.77 584.00,207.16 585.00,206.54 C586.00,205.92 587.00,205.30 588.00,204.67 C589.00,204.04 590.00,203.42 591.00,202.76 C592.00,202.11 593.00,201.43 594.00,200.74 C595.00,200.06 596.00,199.35 597.00,198.64 C598.00,197.94 599.00,197.22 600.00,196.50 C601.00,195.77 602.00,195.04 603.00,194.30 C604.00,193.56 605.00,192.83 606.00,192.05 C607.00,191.26 608.00,190.42 609.00,189.60 C610.00,188.77 611.00,187.93 612.00,187.09 C613.00,186.24 614.00,185.38 615.00,184.51 C616.00,183.64 617.00,182.72 618.00,181.87 C619.00,181.02 620.00,180.24 621.00,179.41 C622.00,178.58 623.00,177.73 624.00,176.88 C625.00,176.02 626.00,175.15 627.00,174.27 C628.00,173.39 629.00,172.50 630.00,171.61 C631.00,170.72 632.00,169.81 633.00,168.91 C634.00,168.01 635.00,167.10 636.00,166.19 C637.00,165.28 638.00,164.29 639.00,163.47 C640.00,162.65 641.00,161.96 642.00,161.27 C643.00,160.59 644.00,160.05 645.00,159.37 C646.00,158.68 647.00,158.01 648.00,157.17 C649.00,156.33 650.00,155.28 651.00,154.35 C652.00,153.43 653.00,152.52 654.00,151.62 C655.00,150.72 656.00,149.82 657.00,148.95 C658.00,148.08 659.00,147.23 660.00,146.40 C661.00,145.58 662.00,144.80 663.00,143.99 C664.00,143.19 665.50,141.98 666.00,141.58" fill="none" stroke="#ffc000" stroke-width="4.30" stroke-linejoin="round" stroke-linecap="butt"/>
<text transform="translate(65.80,159.6) rotate(-90)" x="0" y="0" text-anchor="end" font-size="15.7" textLength="8.51" lengthAdjust="spacingAndGlyphs">1</text>
<text transform="translate(86.85,159.6) rotate(-90)" x="0" y="0" text-anchor="end" font-size="15.7" textLength="17.01" lengthAdjust="spacingAndGlyphs">88</text>
<text transform="translate(107.90,159.6) rotate(-90)" x="0" y="0" text-anchor="end" font-size="15.7" textLength="25.52" lengthAdjust="spacingAndGlyphs">175</text>
<text transform="translate(128.95,159.6) rotate(-90)" x="0" y="0" text-anchor="end" font-size="15.7" textLength="25.52" lengthAdjust="spacingAndGlyphs">262</text>
<text transform="translate(150.00,159.6) rotate(-90)" x="0" y="0" text-anchor="end" font-size="15.7" textLength="25.52" lengthAdjust="spacingAndGlyphs">349</text>
<text transform="translate(171.05,159.6) rotate(-90)" x="0" y="0" text-anchor="end" font-size="15.7" textLength="25.52" lengthAdjust="spacingAndGlyphs">436</text>
<text transform="translate(192.10,159.6) rotate(-90)" x="0" y="0" text-anchor="end" font-size="15.7" textLength="25.52" lengthAdjust="spacingAndGlyphs">523</text>
<text transform="translate(213.15,159.6) rotate(-90)" x="0" y="0" text-anchor="end" font-size="15.7" textLength="25.52" lengthAdjust="spacingAndGlyphs">610</text>
<text transform="translate(234.20,159.6) rotate(-90)" x="0" y="0" text-anchor="end" font-size="15.7" textLength="25.52" lengthAdjust="spacingAndGlyphs">697</text>
<text transform="translate(255.25,159.6) rotate(-90)" x="0" y="0" text-anchor="end" font-size="15.7" textLength="25.52" lengthAdjust="spacingAndGlyphs">784</text>
<text transform="translate(276.30,159.6) rotate(-90)" x="0" y="0" text-anchor="end" font-size="15.7" textLength="25.52" lengthAdjust="spacingAndGlyphs">871</text>
<text transform="translate(297.35,159.6) rotate(-90)" x="0" y="0" text-anchor="end" font-size="15.7" textLength="25.52" lengthAdjust="spacingAndGlyphs">958</text>
<text transform="translate(318.40,159.6) rotate(-90)" x="0" y="0" text-anchor="end" font-size="15.7" textLength="34.03" lengthAdjust="spacingAndGlyphs">1045</text>
<text transform="translate(339.45,159.6) rotate(-90)" x="0" y="0" text-anchor="end" font-size="15.7" textLength="34.03" lengthAdjust="spacingAndGlyphs">1132</text>
<text transform="translate(360.50,159.6) rotate(-90)" x="0" y="0" text-anchor="end" font-size="15.7" textLength="34.03" lengthAdjust="spacingAndGlyphs">1219</text>
<text transform="translate(381.55,159.6) rotate(-90)" x="0" y="0" text-anchor="end" font-size="15.7" textLength="34.03" lengthAdjust="spacingAndGlyphs">1306</text>
<text transform="translate(402.60,159.6) rotate(-90)" x="0" y="0" text-anchor="end" font-size="15.7" textLength="34.03" lengthAdjust="spacingAndGlyphs">1393</text>
<text transform="translate(423.65,159.6) rotate(-90)" x="0" y="0" text-anchor="end" font-size="15.7" textLength="34.03" lengthAdjust="spacingAndGlyphs">1480</text>
<text transform="translate(444.70,159.6) rotate(-90)" x="0" y="0" text-anchor="end" font-size="15.7" textLength="34.03" lengthAdjust="spacingAndGlyphs">1567</text>
<text transform="translate(465.75,159.6) rotate(-90)" x="0" y="0" text-anchor="end" font-size="15.7" textLength="34.03" lengthAdjust="spacingAndGlyphs">1654</text>
<text transform="translate(486.80,159.6) rotate(-90)" x="0" y="0" text-anchor="end" font-size="15.7" textLength="34.03" lengthAdjust="spacingAndGlyphs">1741</text>
<text transform="translate(507.85,159.6) rotate(-90)" x="0" y="0" text-anchor="end" font-size="15.7" textLength="34.03" lengthAdjust="spacingAndGlyphs">1828</text>
<text transform="translate(528.90,159.6) rotate(-90)" x="0" y="0" text-anchor="end" font-size="15.7" textLength="34.03" lengthAdjust="spacingAndGlyphs">1915</text>
<text transform="translate(549.95,159.6) rotate(-90)" x="0" y="0" text-anchor="end" font-size="15.7" textLength="34.03" lengthAdjust="spacingAndGlyphs">2002</text>
<text transform="translate(571.00,159.6) rotate(-90)" x="0" y="0" text-anchor="end" font-size="15.7" textLength="34.03" lengthAdjust="spacingAndGlyphs">2089</text>
<text transform="translate(592.05,159.6) rotate(-90)" x="0" y="0" text-anchor="end" font-size="15.7" textLength="34.03" lengthAdjust="spacingAndGlyphs">2176</text>
<text transform="translate(613.10,159.6) rotate(-90)" x="0" y="0" text-anchor="end" font-size="15.7" textLength="34.03" lengthAdjust="spacingAndGlyphs">2263</text>
<text transform="translate(634.15,159.6) rotate(-90)" x="0" y="0" text-anchor="end" font-size="15.7" textLength="34.03" lengthAdjust="spacingAndGlyphs">2350</text>
<text transform="translate(655.20,159.6) rotate(-90)" x="0" y="0" text-anchor="end" font-size="15.7" textLength="34.03" lengthAdjust="spacingAndGlyphs">2437</text>
<text x="313.0" y="311.7" font-size="17.3" textLength="93" lengthAdjust="spacingAndGlyphs">Time (Cycle)</text>
<line x1="45.3" y1="353.4" x2="81.8" y2="353.4" stroke="#5b9bd5" stroke-width="4.4" stroke-linecap="round"/>
<line x1="45.3" y1="385.7" x2="81.8" y2="385.7" stroke="#a5a5a5" stroke-width="4.4" stroke-linecap="round"/>
<line x1="347.3" y1="353.4" x2="383.5" y2="353.4" stroke="#ed7d31" stroke-width="4.4" stroke-linecap="round"/>
<line x1="347.3" y1="385.7" x2="383.5" y2="385.7" stroke="#ffc000" stroke-width="4.4" stroke-linecap="round"/>
<text x="86.6" y="357.9" font-size="15.8" textLength="253.8" lengthAdjust="spacingAndGlyphs">GRID AC BUS ( 0.40 kV ) - Voltage (%)</text>
<text x="86.6" y="389.9" font-size="15.8" textLength="253.8" lengthAdjust="spacingAndGlyphs">MAIN LOADS ( 0.40 kV ) - Voltage (%)</text>
<text x="388.6" y="357.9" font-size="15.8" textLength="237.1" lengthAdjust="spacingAndGlyphs">PV AC BUS ( 0.60 kV ) - Voltage (%)</text>
<text x="388.6" y="389.9" font-size="15.8" textLength="242.5" lengthAdjust="spacingAndGlyphs">WT AC BUS ( 4.16 kV ) - Voltage (%)</text>
<rect x="1" y="1" width="683" height="409" fill="none" stroke="#dcdcdc" stroke-width="2"/>
</svg>
</body></html>
